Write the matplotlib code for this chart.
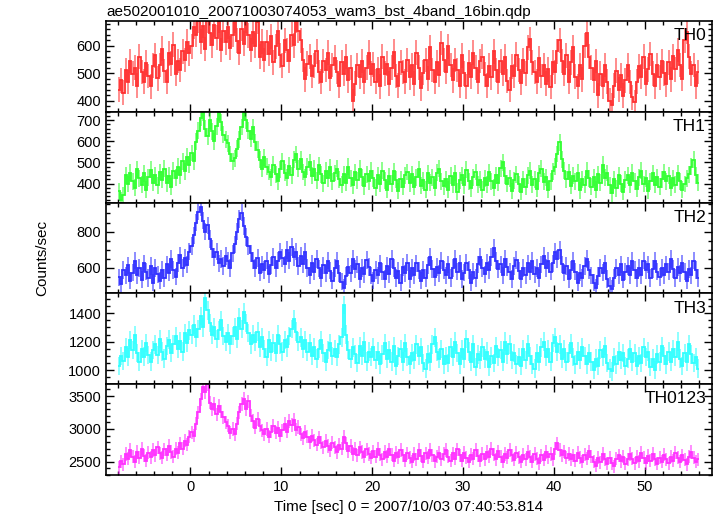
import numpy as np
import matplotlib
matplotlib.use("Agg")
import matplotlib.pyplot as plt
from matplotlib.ticker import MultipleLocator

plt.rcParams['font.family'] = ['Liberation Sans', 'DejaVu Sans']

# bins of 0.25 s from -8 to 56 s
T_START = -8.0
BIN = 0.25

th0 = [
    440, 475, 430, 512, 468, 545, 498, 520, 455, 560, 505, 470, 538, 490, 452, 528,
    565, 482, 530, 590, 508, 470, 572, 535, 604, 498, 545, 512, 580, 548, 615, 572,
    598, 668, 640, 690, 615, 672, 588, 690, 645, 602, 676, 630, 690, 585, 655, 612,
    670, 592, 640, 690, 618, 575, 662, 608, 690, 638, 585, 650, 600, 688, 560, 615,
    548, 612, 570, 635, 540, 598, 652, 566, 528, 620, 585, 545, 640, 602, 690, 655,
    620, 548, 478, 535, 562, 490, 528, 580, 505, 470, 545, 512, 575, 482, 530, 556,
    505, 455, 540, 498, 560, 475, 520, 398, 462, 530, 488, 545, 468, 520, 575, 498,
    532, 470, 515, 452, 560, 498, 535, 462, 520, 578, 490, 455, 540, 505, 470, 548,
    485, 530, 462, 575, 520, 445, 502, 548, 480, 595, 512, 468, 540, 495, 610, 548,
    505, 598, 530, 475, 548, 512, 455, 565, 500, 452, 538, 488, 575, 520, 470, 545,
    560, 495, 455, 528, 485, 580, 512, 470, 545, 498, 560, 472, 440, 525, 490, 568,
    512, 465, 548, 500, 595, 625, 540, 505, 470, 555, 490, 530, 462, 515, 450, 540,
    505, 580, 620, 545, 498, 565, 470, 540, 595, 488, 452, 530, 478, 600, 645, 560,
    520, 475, 545, 420, 498, 452, 530, 470, 400, 385, 455, 510, 440, 492, 418, 475,
    530, 468, 412, 395, 470, 525, 488, 560, 462, 515, 570, 498, 452, 530, 485, 545,
    500, 460, 540, 478, 562, 515, 585, 530, 480, 620, 650, 560, 498, 530, 452, 505,
]

th1 = [
    365, 320, 345, 440, 398, 452, 412, 380, 468, 425, 395, 448, 372, 430, 465, 405,
    440, 392, 455, 418, 470, 402, 438, 385, 462, 428, 480, 440, 505, 458, 528, 490,
    545, 505, 598, 650, 712, 738, 660, 625, 700, 648, 600, 672, 738, 690, 632, 608,
    590, 540, 505, 520, 565, 610, 668, 735, 700, 650, 612, 668, 595, 560, 512, 470,
    525, 480, 455, 430, 490, 445, 412, 468, 505, 452, 428, 485, 440, 512, 538, 470,
    515, 455, 430, 480, 500, 438, 470, 415, 488, 445, 402, 460, 425, 478, 410, 450,
    470, 420, 395, 445, 405, 480, 425, 392, 455, 415, 470, 430, 388, 445, 410, 462,
    425, 380, 440, 398, 462, 415, 372, 435, 400, 458, 418, 365, 420, 385, 440, 455,
    402, 445, 385, 430, 468, 390, 415, 372, 448, 405, 430, 380, 452, 470, 410, 388,
    420, 372, 438, 395, 450, 362, 415, 440, 392, 465, 410, 378, 430, 455, 395, 418,
    370, 425, 395, 455, 410, 380, 440, 405, 472, 500, 438, 400, 425, 365, 415, 445,
    398, 360, 420, 385, 440, 462, 395, 420, 375, 448, 470, 408, 430, 370, 412, 458,
    480, 540, 595, 515, 460, 420, 455, 390, 438, 410, 452, 368, 420, 395, 462, 425,
    385, 430, 372, 445, 405, 490, 428, 450, 392, 355, 420, 378, 440, 400, 362, 418,
    440, 395, 452, 410, 375, 430, 462, 398, 425, 365, 410, 448, 395, 430, 385, 420,
    455, 410, 438, 380, 425, 395, 450, 410, 372, 398, 425, 445, 480, 512, 440, 405,
]

th2 = [
    548, 510, 590, 560, 615, 530, 575, 640, 560, 600, 535, 625, 580, 545, 610, 520,
    600, 565, 530, 590, 545, 620, 575, 650, 590, 552, 628, 670, 600, 655, 618, 690,
    720, 780, 850, 910, 935, 860, 800, 835, 760, 705, 660, 690, 625, 650, 610, 665,
    640, 600, 680, 730, 800, 870, 905, 830, 770, 720, 680, 640, 600, 655, 575, 620,
    590, 640, 565, 615, 660, 598, 640, 690, 655, 620, 700, 640, 715, 660, 690, 610,
    665, 620, 690, 600, 560, 625, 580, 650, 598, 545, 615, 570, 640, 585, 530, 600,
    640, 570, 525, 490, 555, 605, 570, 650, 595, 620, 540, 600, 565, 645, 605, 560,
    530, 590, 560, 625, 580, 540, 610, 565, 650, 600, 545, 585, 520, 605, 570, 630,
    540, 600, 560, 625, 585, 530, 590, 545, 615, 660, 595, 550, 605, 570, 640, 590,
    560, 620, 545, 600, 650, 580, 625, 540, 575, 630, 590, 520, 580, 545, 620, 660,
    600, 565, 630, 590, 660, 710, 640, 595, 620, 560, 650, 605, 580, 540, 610, 645,
    585, 540, 600, 560, 625, 580, 640, 565, 600, 545, 620, 665, 600, 640, 580, 625,
    690, 650, 700, 620, 575, 610, 540, 590, 640, 580, 520, 575, 545, 610, 650, 590,
    560, 520, 490, 555, 600, 575, 625, 540, 500, 485, 545, 600, 560, 620, 535, 580,
    610, 560, 640, 590, 545, 600, 560, 640, 590, 620, 545, 595, 640, 580, 550, 600,
    560, 620, 580, 650, 595, 545, 605, 570, 625, 580, 530, 595, 560, 640, 590, 545,
]

th3 = [
    1030, 1100, 1065, 1160, 1090, 1210, 1140, 1245, 1120, 1060, 1150, 1095, 1190, 1105, 1060, 1140,
    1180, 1105, 1220, 1130, 1080, 1170, 1215, 1120, 1180, 1240, 1150, 1205, 1130, 1260, 1190, 1280,
    1250, 1320, 1230, 1290, 1380, 1300, 1505, 1420, 1330, 1250, 1300, 1220, 1280, 1350, 1240, 1200,
    1260, 1180, 1240, 1300, 1220, 1370, 1290, 1410, 1330, 1260, 1180, 1250, 1200, 1270, 1160, 1230,
    1150, 1090, 1210, 1130, 1190, 1120, 1250, 1180, 1130, 1210, 1160, 1240, 1290, 1360, 1270, 1200,
    1230, 1150, 1210, 1130, 1190, 1100, 1160, 1080, 1150, 1210, 1120, 1060, 1140, 1190, 1100, 1150,
    1090, 1180, 1230, 1460, 1250, 1140, 1080, 1160, 1110, 1050, 1170, 1100, 1200, 1060, 1130, 1090,
    1160, 1070, 1130, 1040, 1110, 1190, 1080, 1140, 1060, 1170, 1030, 1100, 1150, 1060, 1190, 1090,
    1040, 1120, 1070, 1180, 1100, 1160, 1050, 1010, 1110, 1060, 1180, 1230, 1130, 1080, 1150, 1040,
    1100, 1050, 1160, 1090, 1200, 1120, 1040, 1150, 1080, 1220, 1130, 1060, 1180, 1020, 1110, 1070,
    1160, 1080, 1130, 1020, 1100, 1050, 1170, 1090, 1140, 1060, 1200, 1110, 1180, 1070, 1120, 1040,
    1090, 1030, 1150, 1070, 1180, 1100, 1040, 1010, 1120, 1060, 1160, 1200, 1090, 1150, 1060, 1190,
    1230, 1130, 1180, 1080, 1150, 1060, 1120, 1190, 1090, 1040, 1130, 1070, 1160, 1100, 1040, 1120,
    1060, 1000, 1080, 1030, 1140, 1090, 1170, 1050, 1010, 990, 1090, 1040, 1130, 1070, 1120, 1030,
    1080, 1150, 1060, 1120, 1030, 1100, 1050, 1160, 1090, 1130, 1020, 1080, 1000, 1110, 1060, 1170,
    1100, 1040, 1130, 1060, 1150, 1090, 1200, 1080, 1030, 1120, 1060, 1180, 1110, 1050, 1090, 1010,
]

th0123 = [
    2420, 2510, 2460, 2620, 2550, 2680, 2580, 2500, 2650, 2560, 2700, 2590, 2520, 2640, 2570, 2680,
    2600, 2720, 2630, 2560, 2690, 2610, 2740, 2650, 2580, 2700, 2640, 2780, 2700, 2820, 2760, 2880,
    2950, 2900, 3080, 3250, 3450, 3640, 3560, 3680, 3400, 3300, 3380, 3220, 3350, 3260, 3180, 3100,
    3050, 2940, 3000, 2920, 3080, 3250, 3380, 3460, 3300, 3420, 3200, 3120, 3020, 3150, 3050, 2980,
    2920, 3000, 2880, 2960, 3050, 2940, 3020, 2900, 2980, 3080, 2960, 3120, 3060, 3140, 2990, 3030,
    2920, 2860, 2960, 2880, 2800, 2900, 2830, 2760, 2870, 2790, 2720, 2820, 2740, 2680, 2790, 2720,
    2650, 2760, 2700, 2880, 2780, 2660, 2740, 2620, 2700, 2600, 2720, 2650, 2580, 2690, 2620, 2560,
    2660, 2580, 2700, 2610, 2540, 2650, 2580, 2690, 2610, 2520, 2640, 2570, 2680, 2600, 2520, 2630,
    2560, 2500, 2620, 2540, 2680, 2590, 2500, 2630, 2560, 2680, 2600, 2510, 2580, 2640, 2540, 2620,
    2680, 2580, 2520, 2630, 2550, 2690, 2600, 2520, 2640, 2560, 2500, 2610, 2550, 2680, 2590, 2520,
    2620, 2540, 2650, 2580, 2700, 2610, 2540, 2660, 2580, 2500, 2620, 2560, 2680, 2600, 2530, 2640,
    2570, 2500, 2610, 2540, 2650, 2580, 2500, 2620, 2550, 2480, 2600, 2530, 2650, 2570, 2620, 2540,
    2700, 2780, 2680, 2600, 2660, 2560, 2620, 2540, 2600, 2520, 2640, 2560, 2500, 2610, 2550, 2660,
    2580, 2500, 2440, 2560, 2490, 2620, 2540, 2470, 2560, 2480, 2430, 2550, 2600, 2510, 2580, 2470,
    2540, 2620, 2550, 2480, 2580, 2510, 2640, 2560, 2480, 2590, 2520, 2620, 2540, 2470, 2560, 2500,
    2610, 2540, 2480, 2580, 2520, 2640, 2560, 2500, 2600, 2530, 2460, 2580, 2650, 2560, 2500, 2540,
]

bands = ["TH0", "TH1", "TH2", "TH3", "TH0123"]
series = [th0, th1, th2, th3, th0123]
errors = [45, 40, 48, 65, 100]
colors = ["#ff3030", "#30ff30", "#3030ff", "#30ffff", "#ff30ff"]
ylims = [(360, 690), (310, 740), (460, 960), (900, 1540), (2300, 3680)]
ymajor = [100, 100, 200, 200, 500]
yminor = [20, 20, 50, 50, 100]

fig = plt.figure(figsize=(7.17, 5.16), dpi=100)
left, right = 106 / 717, 712 / 717
top, bottom = 1 - 21 / 516, 1 - 475 / 516
h = (top - bottom) / 5

for i, (name, vals) in enumerate(zip(bands, series)):
    ax = fig.add_axes([left, top - (i + 1) * h, right - left, h])
    vals = np.array(vals, dtype=float)
    n = len(vals)
    edges = T_START + BIN * np.arange(n + 1)
    centers = edges[:-1] + BIN / 2
    ax.errorbar(centers, vals, yerr=errors[i], fmt='none', ecolor=colors[i],
                elinewidth=1.1, alpha=0.7, capsize=0)
    ax.stairs(vals, edges, baseline=None, color=colors[i], linewidth=1.3)
    ax.set_xlim(-9.3, 57.4)
    ax.set_ylim(*ylims[i])
    ax.xaxis.set_major_locator(MultipleLocator(10))
    ax.xaxis.set_minor_locator(MultipleLocator(2))
    ax.yaxis.set_major_locator(MultipleLocator(ymajor[i]))
    ax.yaxis.set_minor_locator(MultipleLocator(yminor[i]))
    ax.tick_params(which='both', direction='in', top=True, right=True,
                   labelsize=10.5, width=1.0)
    ax.tick_params(which='major', length=6)
    ax.tick_params(which='minor', length=3)
    for sp in ax.spines.values():
        sp.set_linewidth(1.2)
    if i < 4:
        ax.tick_params(labelbottom=False)
    ax.text(0.99, 0.92, name, transform=ax.transAxes, ha='right', va='top',
            fontsize=12.5)

fig.text(left, 1 - 12 / 516, "ae502001010_20071003074053_wam3_bst_4band_16bin.qdp",
         ha='left', va='center', fontsize=11)
fig.text(42 / 717, 0.5, "Counts/sec", rotation=90, ha='center', va='center',
         fontsize=11)
fig.text((left + right) / 2, 1 - 507 / 516,
         "Time [sec] 0 = 2007/10/03 07:40:53.814", ha='center', va='center',
         fontsize=11)

fig.savefig("out.png", dpi=100)
